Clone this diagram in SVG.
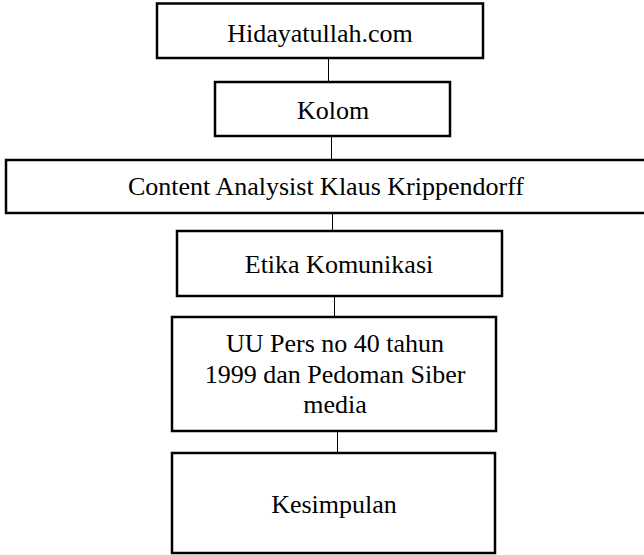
<svg xmlns="http://www.w3.org/2000/svg" width="644" height="555" viewBox="0 0 644 555">
<style>
.box{fill:#fff;stroke:#000;stroke-width:2.5}
.t{font-family:"Liberation Serif","Times New Roman",serif;font-size:26px;fill:#000;text-anchor:middle}
.c{stroke:#000;stroke-width:1;fill:none}
</style>
<rect width="644" height="555" fill="#fff"/>
<g id="connectors">
<line class="c" x1="328.5" y1="58" x2="328.5" y2="82"/>
<line class="c" x1="331.5" y1="136" x2="331.5" y2="160"/>
<line class="c" x1="332.5" y1="213" x2="332.5" y2="231"/>
<line class="c" x1="334.5" y1="296" x2="334.5" y2="317"/>
<line class="c" x1="337.5" y1="431" x2="337.5" y2="453"/>
</g>
<g id="n1"><rect class="box" x="157" y="3.5" width="326" height="54.5"/><text class="t" x="320" y="42">Hidayatullah.com</text></g>
<g id="n2"><rect class="box" x="215" y="82" width="235" height="54"/><text class="t" x="333" y="119">Kolom</text></g>
<g id="n3"><rect class="box" x="6" y="160" width="650" height="53"/><text class="t" x="326" y="195">Content Analysist Klaus Krippendorff</text></g>
<g id="n4"><rect class="box" x="177" y="231" width="325" height="65"/><text class="t" x="339" y="273">Etika Komunikasi</text></g>
<g id="n5"><rect class="box" x="172" y="317" width="324" height="114"/><text class="t" x="335" y="352">UU Pers no 40 tahun</text><text class="t" x="335" y="383">1999 dan Pedoman Siber</text><text class="t" x="335" y="413">media</text></g>
<g id="n6"><rect class="box" x="172" y="453" width="323" height="100"/><text class="t" x="334" y="513">Kesimpulan</text></g>
</svg>
